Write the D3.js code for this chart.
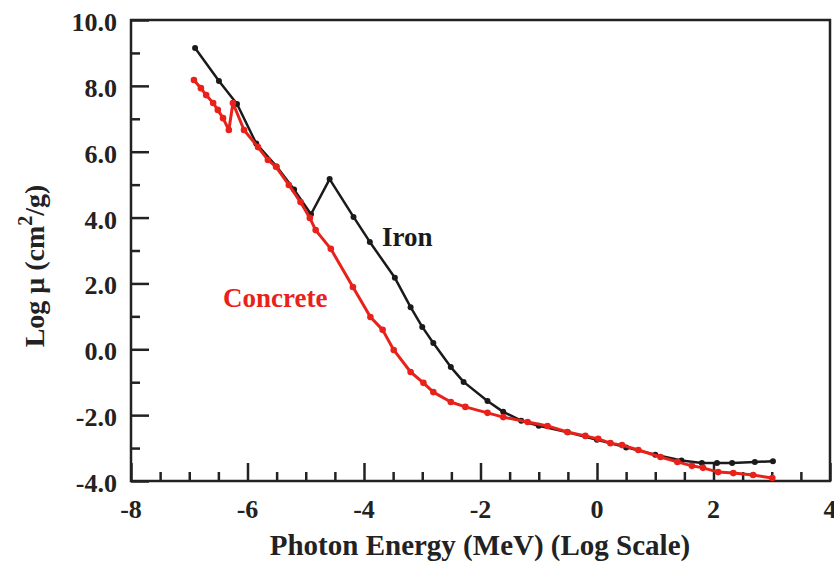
<!DOCTYPE html>
<html>
<head>
<meta charset="utf-8">
<script src="https://cdn.jsdelivr.net/npm/d3@7"></script>
<style>
  body { margin: 0; background: #fff; }
  text { font-family: "Liberation Serif", "Times New Roman", serif; font-weight: bold; }
</style>
</head>
<body>
<div id="chart"></div>
<script>
// Werte (log10 Energie, log mu)
const ironX = [-6.90, -6.49, -6.18, -5.85, -5.50, -5.20, -4.91, -4.59, -4.18, -3.90, -3.47, -3.20, -3.00, -2.81, -2.51, -2.29, -1.88, -1.61, -1.30, -1.00, -0.50, 0.00, 0.50, 1.00, 1.45, 1.80, 2.06, 2.32, 2.71, 3.02];
const ironY = [9.15, 8.15, 7.45, 6.25, 5.55, 4.85, 4.10, 5.17, 4.02, 3.26, 2.17, 1.28, 0.68, 0.19, -0.54, -0.99, -1.57, -1.90, -2.17, -2.32, -2.52, -2.75, -2.98, -3.20, -3.38, -3.45, -3.45, -3.45, -3.42, -3.40];

const concreteX = [-6.92, -6.80, -6.71, -6.59, -6.51, -6.42, -6.32, -6.25, -6.06, -5.82, -5.65, -5.51, -5.29, -5.09, -4.93, -4.83, -4.57, -4.19, -3.89, -3.68, -3.49, -3.20, -2.98, -2.81, -2.51, -2.26, -1.88, -1.61, -1.19, -0.85, -0.51, -0.20, 0.02, 0.23, 0.43, 0.71, 1.09, 1.38, 1.63, 1.82, 2.08, 2.34, 2.68, 3.01];
const concreteY = [8.18, 7.93, 7.72, 7.48, 7.27, 7.02, 6.66, 7.48, 6.66, 6.14, 5.75, 5.54, 4.99, 4.47, 3.99, 3.62, 3.05, 1.89, 0.98, 0.59, -0.02, -0.69, -1.02, -1.30, -1.60, -1.75, -1.93, -2.06, -2.21, -2.33, -2.51, -2.63, -2.72, -2.85, -2.91, -3.06, -3.27, -3.42, -3.54, -3.60, -3.73, -3.76, -3.82, -3.91];

const xTicks = [-8, -6, -4, -2, 0, 2, 4];
const yTicks = [10, 8, 6, 4, 2, 0, -2, -4];

const iron = ironX.map((x, i) => ({ x, y: ironY[i] }));
const concrete = concreteX.map((x, i) => ({ x, y: concreteY[i] }));

const width = 834;
const height = 562;
const margin = { top: 20, right: 4, bottom: 81, left: 131 };

const svg = d3.select("#chart")
  .append("svg")
  .attr("width", width)
  .attr("height", height);

// Skalen
const x = d3.scaleLinear().domain([-8, 4]).range([margin.left, width - margin.right]);
const y = d3.scaleLinear().domain([-4, 10]).range([height - margin.bottom, margin.top]);

// Rahmen
svg.append("rect")
  .attr("x", x(-8)).attr("y", y(10))
  .attr("width", x(4) - x(-8)).attr("height", y(-4) - y(10))
  .attr("fill", "none").attr("stroke", "#222").attr("stroke-width", 2.5);

// Achsen mit Teilstrichen nach innen
const xAxis = svg.append("g")
  .attr("transform", `translate(0,${y(-4)})`)
  .call(d3.axisBottom(x).tickValues(d3.range(-8, 4.01, 0.5)).tickSize(0).tickFormat(""));
xAxis.select(".domain").remove();
xAxis.selectAll(".tick line")
  .attr("y2", d => Number.isInteger(d / 2) ? -18 : -9)
  .attr("stroke", "#222").attr("stroke-width", 2.5);
svg.append("g")
  .selectAll("text")
  .data(xTicks)
  .join("text")
  .attr("x", d => x(d))
  .attr("y", y(-4) + 37)
  .attr("text-anchor", "middle")
  .attr("font-size", 26)
  .attr("fill", "#222")
  .text(d => d);

const yAxis = svg.append("g")
  .attr("transform", `translate(${x(-8)},0)`)
  .call(d3.axisLeft(y).tickValues(d3.range(-4, 10.01, 1)).tickSize(0).tickFormat(""));
yAxis.select(".domain").remove();
yAxis.selectAll(".tick line")
  .attr("x2", d => d % 2 === 0 ? 18 : 9)
  .attr("stroke", "#222").attr("stroke-width", 2.5);
svg.append("g")
  .selectAll("text")
  .data(yTicks)
  .join("text")
  .attr("x", x(-8) - 14)
  .attr("y", d => y(d) + 11)
  .attr("text-anchor", "end")
  .attr("font-size", 26)
  .attr("fill", "#222")
  .text(d => d.toFixed(1));

// Achsentitel
svg.append("text")
  .attr("x", 480)
  .attr("y", 555)
  .attr("text-anchor", "middle")
  .attr("font-size", 29)
  .attr("fill", "#222")
  .text("Photon Energy (MeV) (Log Scale)");

const yTitle = svg.append("text")
  .attr("transform", `translate(44,266) rotate(-90)`)
  .attr("text-anchor", "middle")
  .attr("font-size", 28)
  .attr("fill", "#222");
yTitle.append("tspan").text("Log μ (cm");
yTitle.append("tspan").attr("dy", -12).attr("font-size", 20).text("2");
yTitle.append("tspan").attr("dy", 12).text("/g)");

// Linien
const line = d3.line().x(d => x(d.x)).y(d => y(d.y));

function series(data, color, lw, r) {
  svg.append("path")
    .datum(data)
    .attr("fill", "none")
    .attr("stroke", color)
    .attr("stroke-width", lw)
    .attr("stroke-linejoin", "round")
    .attr("d", line);
  svg.append("g")
    .selectAll("circle")
    .data(data)
    .join("circle")
    .attr("cx", d => x(d.x))
    .attr("cy", d => y(d.y))
    .attr("r", r)
    .attr("fill", color);
}

series(iron, "#1a1a1a", 2.5, 3);
series(concrete, "#e8221b", 3, 3.3);

// Beschriftungen
svg.append("text")
  .attr("x", 382).attr("y", 246)
  .attr("font-size", 27).attr("fill", "#1a1a1a")
  .text("Iron");
svg.append("text")
  .attr("x", 223).attr("y", 307)
  .attr("font-size", 27).attr("fill", "#e8221b")
  .text("Concrete");
</script>
</body>
</html>
